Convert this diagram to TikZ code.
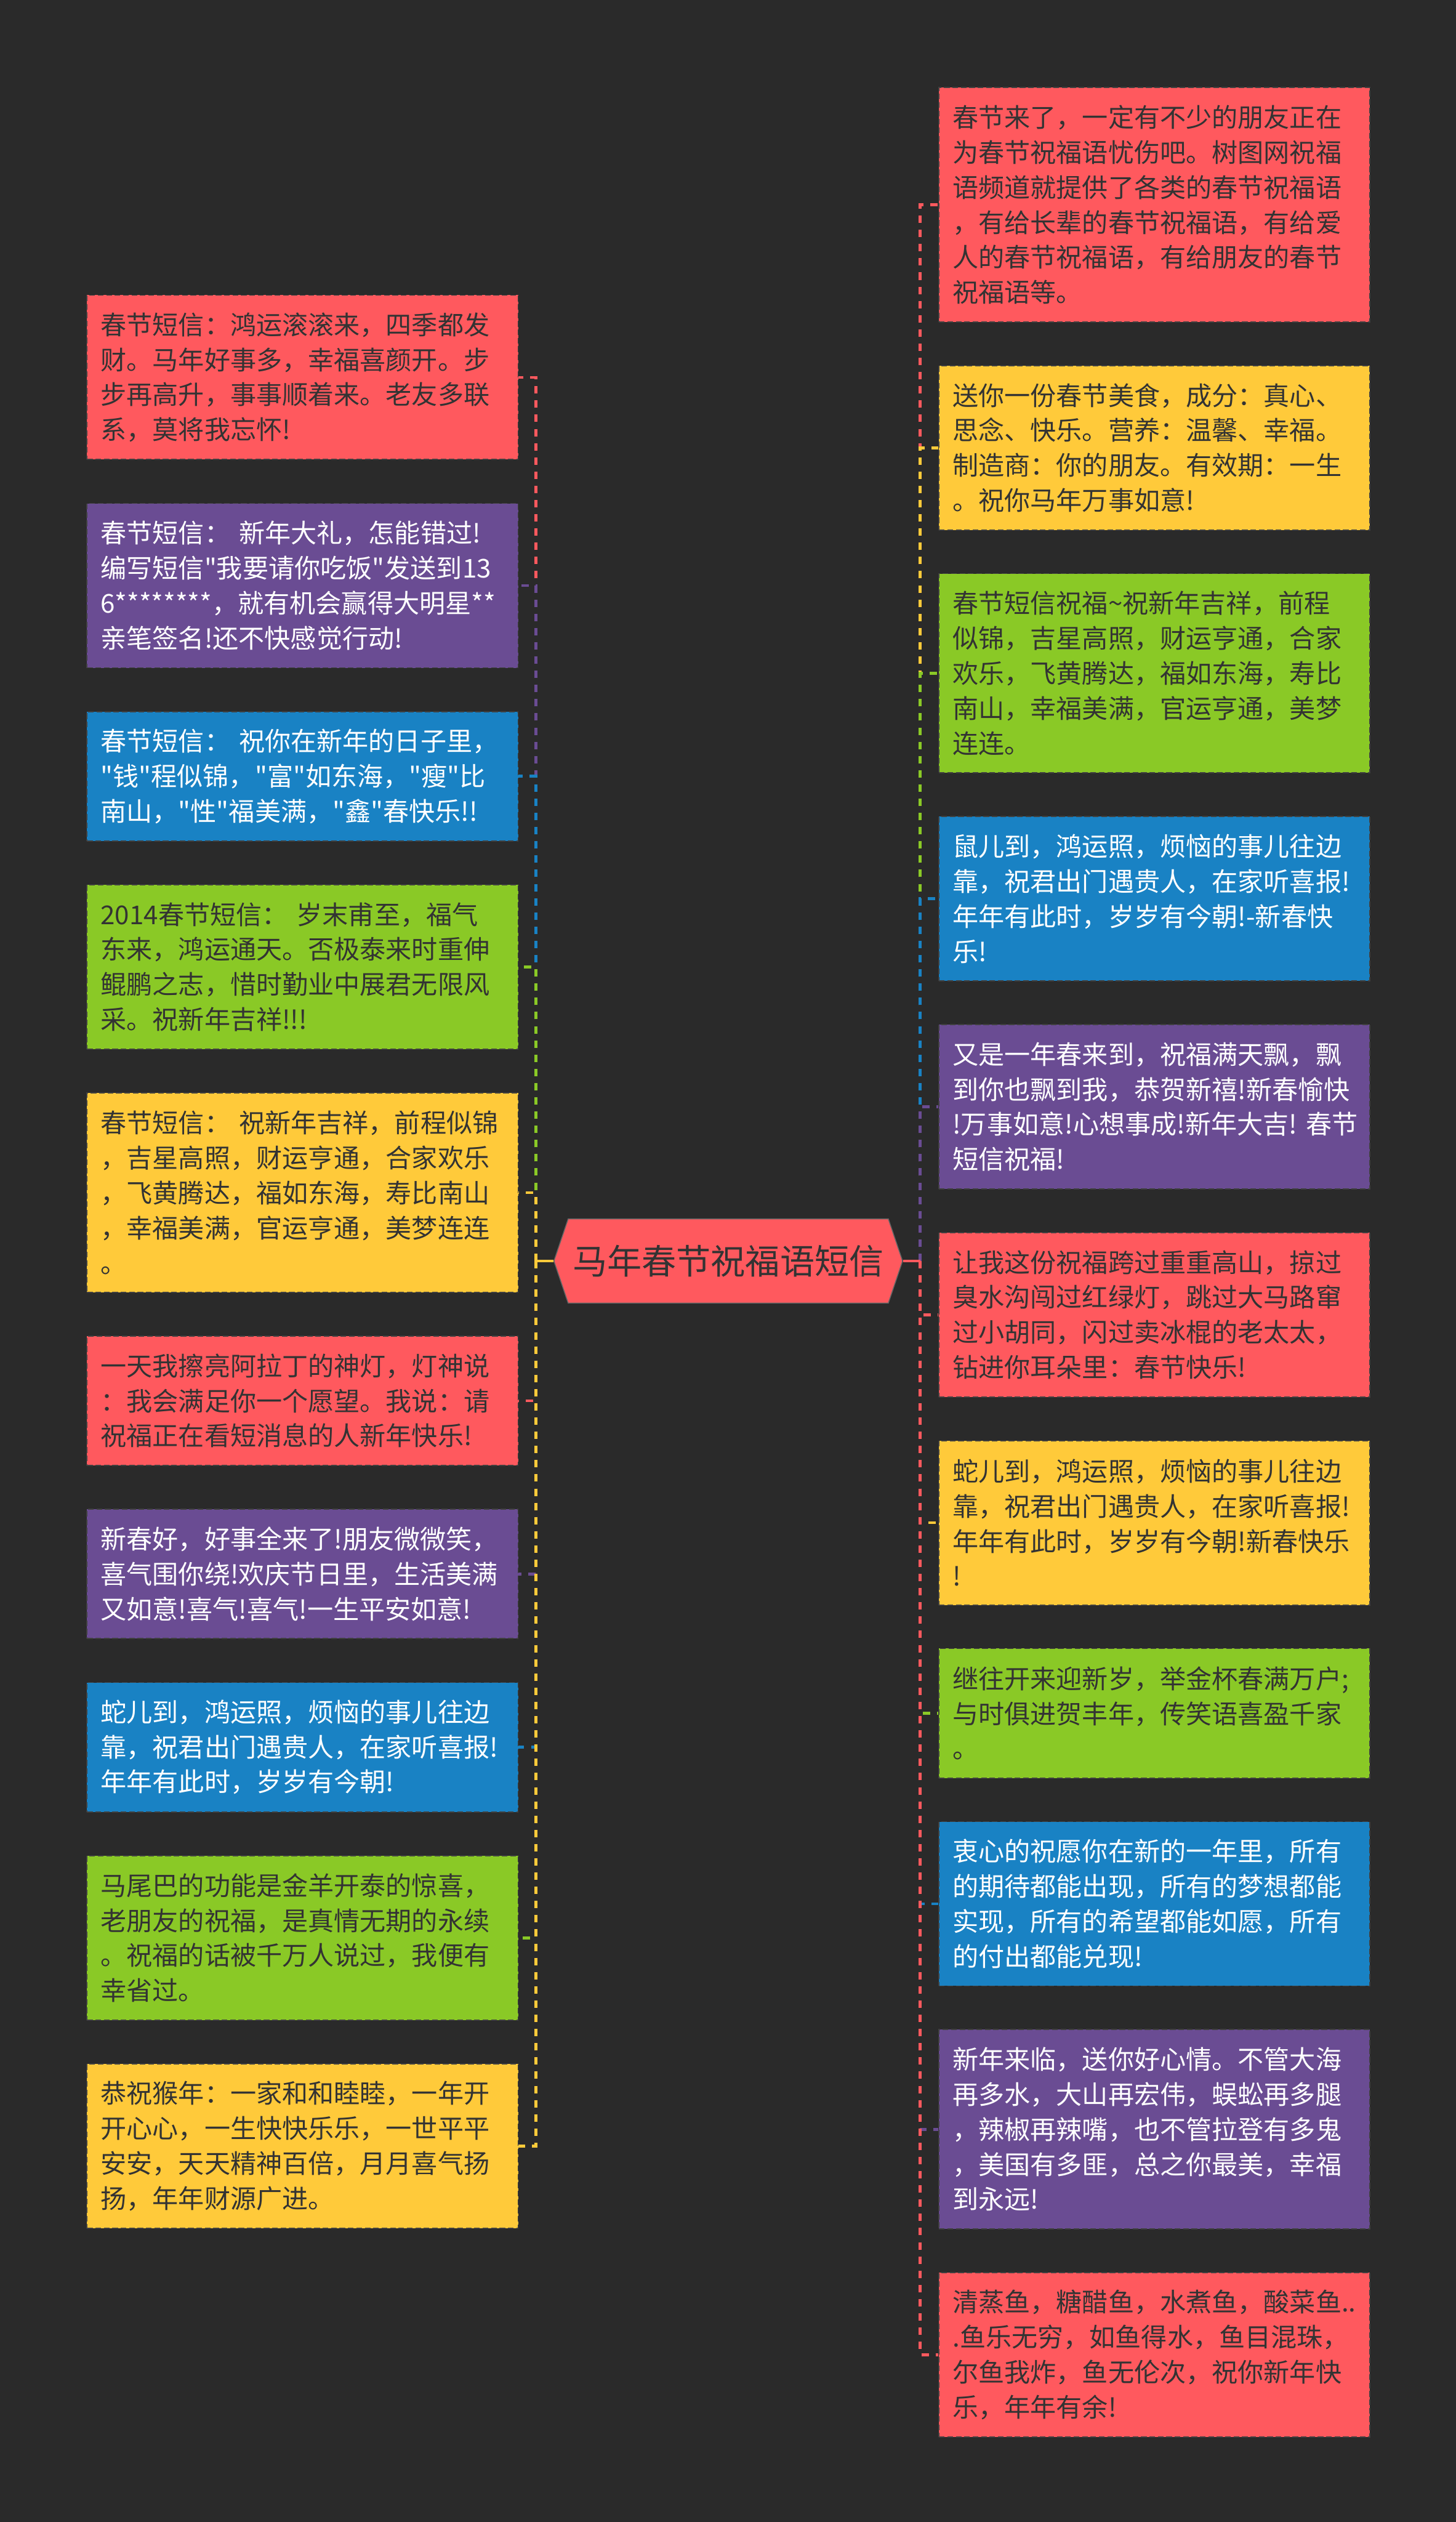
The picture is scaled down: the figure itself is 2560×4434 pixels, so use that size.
\documentclass[tikz,border=0pt]{standalone}
\usepackage{fontspec}
\newfontfamily\cjk{Noto Sans CJK SC}
\definecolor{bg}{HTML}{2A2A2A}
\definecolor{cred}{HTML}{FF595E}
\definecolor{cyel}{HTML}{FFCA3A}
\definecolor{cgrn}{HTML}{8AC926}
\definecolor{cblu}{HTML}{1982C4}
\definecolor{cpur}{HTML}{6A4C93}
\definecolor{tdark}{HTML}{333333}
\tikzset{
  box/.style={anchor=north west, inner xsep=6pt, inner ysep=0pt,
    text width=177.5pt, minimum width=189.5pt, align=left,
    font=\cjk\fontsize{11.4pt}{15.375pt}\selectfont,
    draw=black!75, line width=0.5pt, dash pattern=on 2.5pt off 1.2pt},
  h3/.style={minimum height=56.875pt},
  h4/.style={minimum height=72.25pt},
  h5/.style={minimum height=87.625pt},
  h6/.style={minimum height=103pt},
  bred/.style={box, fill=cred, text=tdark},
  byel/.style={box, fill=cyel, text=tdark},
  bgrn/.style={box, fill=cgrn, text=tdark},
  bblu/.style={box, fill=cblu, text=white},
  bpur/.style={box, fill=cpur, text=white},
  conn/.style={line width=1.25pt, dash pattern=on 3.25pt off 3pt},
  stub/.style={line width=1.25pt},
  centre/.style={inner sep=0pt, minimum width=153.25pt, minimum height=37pt,
    font=\cjk\fontsize{15.2pt}{18pt}\selectfont, text=tdark},
}
\begin{document}
\begin{tikzpicture}[x=0.25pt,y=-0.25pt]
\fill[bg] (0,0) rectangle (2560,4434);
\useasboundingbox (0,0) rectangle (2560,4434);

% centre
\fill[cred, draw=black!60, line width=0.4pt] (974,2217) -- (999,2143) -- (1562,2143) -- (1587,2217) -- (1562,2291) -- (999,2291) -- cycle;
\node[centre] (c) at (1280.5,2217) {马年春节祝福语短信};
\coordinate (ls) at (942,2217);
\coordinate (rs) at (1618,2217);

% left boxes
\node[bred,h4] (l1) at (152,518) {春节短信：鸿运滚滚来，四季都发\\财。马年好事多，幸福喜颜开。步\\步再高升，事事顺着来。老友多联\\系，莫将我忘怀!};
\node[bpur,h4] (l2) at (152,884) {春节短信：~新年大礼，怎能错过!\\编写短信"我要请你吃饭"发送到13\\6********，就有机会赢得大明星**\\亲笔签名!还不快感觉行动!};
\node[bblu,h3] (l3) at (152,1250) {春节短信：~祝你在新年的日子里，\\"钱"程似锦，"富"如东海，"瘦"比\\南山，"性"福美满，"鑫"春快乐!!};
\node[bgrn,h4] (l4) at (152,1554.5) {2014春节短信：~岁末甫至，福气\\东来，鸿运通天。否极泰来时重伸\\鲲鹏之志，惜时勤业中展君无限风\\采。祝新年吉祥!!!};
\node[byel,h5] (l5) at (152,1920.5) {春节短信：~祝新年吉祥，前程似锦\\，吉星高照，财运亨通，合家欢乐\\，飞黄腾达，福如东海，寿比南山\\，幸福美满，官运亨通，美梦连连\\。};
\node[bred,h3] (l6) at (152,2348) {一天我擦亮阿拉丁的神灯，灯神说\\：我会满足你一个愿望。我说：请\\祝福正在看短消息的人新年快乐!};
\node[bpur,h3] (l7) at (152,2652.5) {新春好，好事全来了!朋友微微笑，\\喜气围你绕!欢庆节日里，生活美满\\又如意!喜气!喜气!一生平安如意!};
\node[bblu,h3] (l8) at (152,2957) {蛇儿到，鸿运照，烦恼的事儿往边\\靠，祝君出门遇贵人，在家听喜报!\\年年有此时，岁岁有今朝!};
\node[bgrn,h4] (l9) at (152,3261.5) {马尾巴的功能是金羊开泰的惊喜，\\老朋友的祝福，是真情无期的永续\\。祝福的话被千万人说过，我便有\\幸省过。};
\node[byel,h4] (l10) at (152,3627.5) {恭祝猴年：一家和和睦睦，一年开\\开心心，一生快快乐乐，一世平平\\安安，天天精神百倍，月月喜气扬\\扬，年年财源广进。};

% right boxes
\node[bred,h6] (r1) at (1650,153) {春节来了，一定有不少的朋友正在\\为春节祝福语忧伤吧。树图网祝福\\语频道就提供了各类的春节祝福语\\，有给长辈的春节祝福语，有给爱\\人的春节祝福语，有给朋友的春节\\祝福语等。};
\node[byel,h4] (r2) at (1650,641.7) {送你一份春节美食，成分：真心、\\思念、快乐。营养：温馨、幸福。\\制造商：你的朋友。有效期：一生\\。祝你马年万事如意!};
\node[bgrn,h5] (r3) at (1650,1007.4) {春节短信祝福\textasciitilde 祝新年吉祥，前程\\似锦，吉星高照，财运亨通，合家\\欢乐，飞黄腾达，福如东海，寿比\\南山，幸福美满，官运亨通，美梦\\连连。};
\node[bblu,h4] (r4) at (1650,1434.6) {鼠儿到，鸿运照，烦恼的事儿往边\\靠，祝君出门遇贵人，在家听喜报!\\年年有此时，岁岁有今朝!-新春快\\乐!};
\node[bpur,h4] (r5) at (1650,1800.3) {又是一年春来到，祝福满天飘，飘\\到你也飘到我，恭贺新禧!新春愉快\\!万事如意!心想事成!新年大吉!~春节\\短信祝福!};
\node[bred,h4] (r6) at (1650,2166) {让我这份祝福跨过重重高山，掠过\\臭水沟闯过红绿灯，跳过大马路窜\\过小胡同，闪过卖冰棍的老太太，\\钻进你耳朵里：春节快乐!};
\node[byel,h4] (r7) at (1650,2531.7) {蛇儿到，鸿运照，烦恼的事儿往边\\靠，祝君出门遇贵人，在家听喜报!\\年年有此时，岁岁有今朝!新春快乐\\!};
\node[bgrn,h3] (r8) at (1650,2897.4) {继往开来迎新岁，举金杯春满万户;\\与时俱进贺丰年，传笑语喜盈千家\\。};
\node[bblu,h4] (r9) at (1650,3201.6) {衷心的祝愿你在新的一年里，所有\\的期待都能出现，所有的梦想都能\\实现，所有的希望都能如愿，所有\\的付出都能兑现!};
\node[bpur,h5] (r10) at (1650,3567.3) {新年来临，送你好心情。不管大海\\再多水，大山再宏伟，蜈蚣再多腿\\，辣椒再辣嘴，也不管拉登有多鬼\\，美国有多匪，总之你最美，幸福\\到永远!};
\node[bred,h4] (r11) at (1650,3994.5) {清蒸鱼，糖醋鱼，水煮鱼，酸菜鱼..\\.鱼乐无穷，如鱼得水，鱼目混珠，\\尔鱼我炸，鱼无伦次，祝你新年快\\乐，年年有余!};

% left connectors
\foreach \n/\col in {l1/cred,l2/cpur,l3/cblu,l4/cgrn,l5/cyel,l6/cred,l7/cpur,l8/cblu,l9/cgrn,l10/cyel}{
  \draw[stub,\col] (c.west) -- (ls);
  \draw[conn,\col] (ls) |- (\n.east);
}
% right connectors
\foreach \n/\col in {r1/cred,r2/cyel,r3/cgrn,r4/cblu,r5/cpur,r6/cred,r7/cyel,r8/cgrn,r9/cblu,r10/cpur,r11/cred}{
  \draw[stub,\col] (c.east) -- (rs);
  \draw[conn,\col] (rs) |- (\n.west);
}
\end{tikzpicture}
\end{document}
